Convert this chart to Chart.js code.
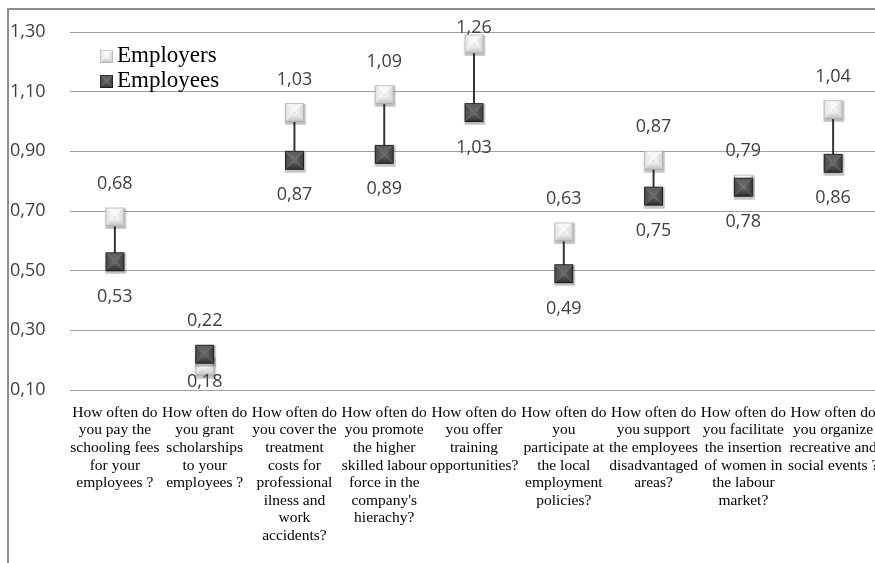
<!DOCTYPE html>
<html><head><meta charset="utf-8">
<script src="https://cdn.jsdelivr.net/npm/chart.js@4/dist/chart.umd.min.js"></script>
<style>
html,body{margin:0;padding:0;background:#fff;overflow:hidden;width:875px;height:563px;}
#frame{position:absolute;left:7px;top:8px;width:1000px;height:1000px;border-left:2px solid #8c8c8c;border-top:2px solid #8c8c8c;}
#c{position:absolute;left:0;top:0;}
</style></head><body>
<div id="frame"></div>
<canvas id="c" width="900" height="563"></canvas>
<script>
const categories = [
  ["How often do","you pay the","schooling fees","for your","employees ?"],
  ["How often do","you grant","scholarships","to your","employees ?"],
  ["How often do","you cover the","treatment","costs for","professional","ilness and","work","accidents?"],
  ["How often do","you promote","the higher","skilled labour","force in the","company's","hierachy?"],
  ["How often do","you offer","training","opportunities?"],
  ["How often do","you","participate at","the local","employment","policies?"],
  ["How often do","you support","the employees","disadvantaged","areas?"],
  ["How often do","you facilitate","the insertion","of women in","the labour","market?"],
  ["How often do","you organize","recreative and","social events ?"]
];
const employers = [0.68, 0.18, 1.03, 1.09, 1.26, 0.63, 0.87, 0.79, 1.04];
const employees = [0.53, 0.22, 0.87, 0.89, 1.03, 0.49, 0.75, 0.78, 0.86];
const yTicks = [0.10, 0.30, 0.50, 0.70, 0.90, 1.10, 1.30];
const seriesNames = ["Employers", "Employees"];

function fmt(v){ return v.toFixed(2).replace('.', ','); }

function makeMarker(light){
  const s = 19, pad = 3;
  const c = document.createElement('canvas');
  c.width = s + pad*2; c.height = s + pad*2;
  const g = c.getContext('2d');
  g.fillStyle = 'rgba(0,0,0,0.10)'; g.fillRect(pad-0.5, pad+0.5, s+2.5, s+2.5);
  g.fillStyle = 'rgba(0,0,0,0.16)'; g.fillRect(pad+0.5, pad+1, s+1, s+1.5);
  const x0 = pad, y0 = pad, x1 = pad+s, y1 = pad+s, cx = pad+s/2, cy = pad+s/2;
  const cols = light
    ? {top:'#f4f4f4', left:'#e0e0e0', right:'#d2d2d2', bottom:'#bdbdbd', center:'#ffffff'}
    : {top:'#5c5c5c', left:'#464646', right:'#3a3a3a', bottom:'#2a2a2a', center:'#6c6c6c'};
  function tri(ax,ay,bx,by,col,mx,my){
    const gr = g.createLinearGradient(mx,my,cx,cy);
    gr.addColorStop(0,col); gr.addColorStop(1,cols.center);
    g.beginPath(); g.moveTo(ax,ay); g.lineTo(bx,by); g.lineTo(cx,cy); g.closePath();
    g.fillStyle = gr; g.fill();
  }
  tri(x0,y0,x1,y0,cols.top,cx,y0);
  tri(x0,y1,x1,y1,cols.bottom,cx,y1);
  tri(x0,y0,x0,y1,cols.left,x0,cy);
  tri(x1,y0,x1,y1,cols.right,x1,cy);
  g.strokeStyle = light ? 'rgba(160,160,160,0.6)' : 'rgba(20,20,20,0.7)';
  g.lineWidth = 1;
  g.strokeRect(x0+0.5, y0+0.5, s-1, s-1);
  return c;
}
const lightMarker = makeMarker(true);
const darkMarker = makeMarker(false);

const valueLabels = {
  id: 'valueLabels',
  afterDatasetsDraw(chart){
    const ctx = chart.ctx, xs = chart.scales.x, ys = chart.scales.y, area = chart.chartArea;
    ctx.save();
    ctx.font = '18px "Open Sans"';
    ctx.fillStyle = '#404040';
    ctx.textAlign = 'center';
    ctx.textBaseline = 'middle';
    categories.forEach((_, i) => {
      const x = xs.getPixelForValue(i);
      const hi = Math.max(employers[i], employees[i]);
      const lo = Math.min(employers[i], employees[i]);
      let yh = ys.getPixelForValue(hi) - 33;
      let yl = ys.getPixelForValue(lo) + 35;
      yh = Math.max(yh, area.top - 4);
      yl = Math.min(yl, area.bottom - 8);
      ctx.fillText(fmt(hi), x, yh);
      ctx.fillText(fmt(lo), x, yl);
    });
    ctx.restore();
  }
};

const customLegend = {
  id: 'customLegend',
  afterDraw(chart){
    const ctx = chart.ctx;
    ctx.save();
    ctx.font = '23px "Liberation Serif"';
    ctx.fillStyle = '#000';
    ctx.textAlign = 'left';
    ctx.textBaseline = 'alphabetic';
    ctx.drawImage(lightMarker, 3, 3, 19, 19, 100, 50, 13, 13);
    ctx.fillText(seriesNames[0], 117, 62);
    ctx.drawImage(darkMarker, 3, 3, 19, 19, 100, 75, 13, 13);
    ctx.fillText(seriesNames[1], 117, 87);
    ctx.restore();
  }
};

new Chart(document.getElementById('c'), {
  data: {
    labels: categories,
    datasets: [
      {
        type: 'bar',
        label: 'range',
        data: employers.map((v, i) => [Math.min(v, employees[i]), Math.max(v, employees[i])]),
        backgroundColor: '#333333',
        barThickness: 1.3,
        order: 3
      },
      {
        type: 'line',
        label: seriesNames[0],
        data: employers,
        showLine: false,
        pointStyle: lightMarker,
        order: 2
      },
      {
        type: 'line',
        label: seriesNames[1],
        data: employees,
        showLine: false,
        pointStyle: darkMarker,
        order: 1
      }
    ]
  },
  options: {
    responsive: false,
    animation: false,
    devicePixelRatio: 1,
    layout: { padding: { left: 10, right: 22, top: 32, bottom: 0 } },
    plugins: { legend: { display: false }, tooltip: { enabled: false } },
    scales: {
      x: {
        type: 'category',
        offset: true,
        grid: { display: false },
        border: { display: false },
        ticks: {
          maxRotation: 0, minRotation: 0, autoSkip: false,
          padding: 6,
          color: '#000',
          font: { family: '"Liberation Serif"', size: 15.5, lineHeight: 1.135 }
        },
        afterFit(scale){ scale.height = 173; }
      },
      y: {
        min: 0.1, max: 1.3,
        grid: { color: '#a0a0a0', lineWidth: 1, drawTicks: false },
        border: { display: false },
        afterBuildTicks(scale){ scale.ticks = yTicks.map(v => ({ value: v })); },
        ticks: {
          crossAlign: 'far',
          padding: 0,
          color: '#404040',
          font: { family: '"Open Sans"', size: 18 },
          callback: (v) => fmt(v)
        },
        afterFit(scale){ scale.width = 60; }
      }
    }
  },
  plugins: [valueLabels, customLegend]
});
</script>
</body></html>
